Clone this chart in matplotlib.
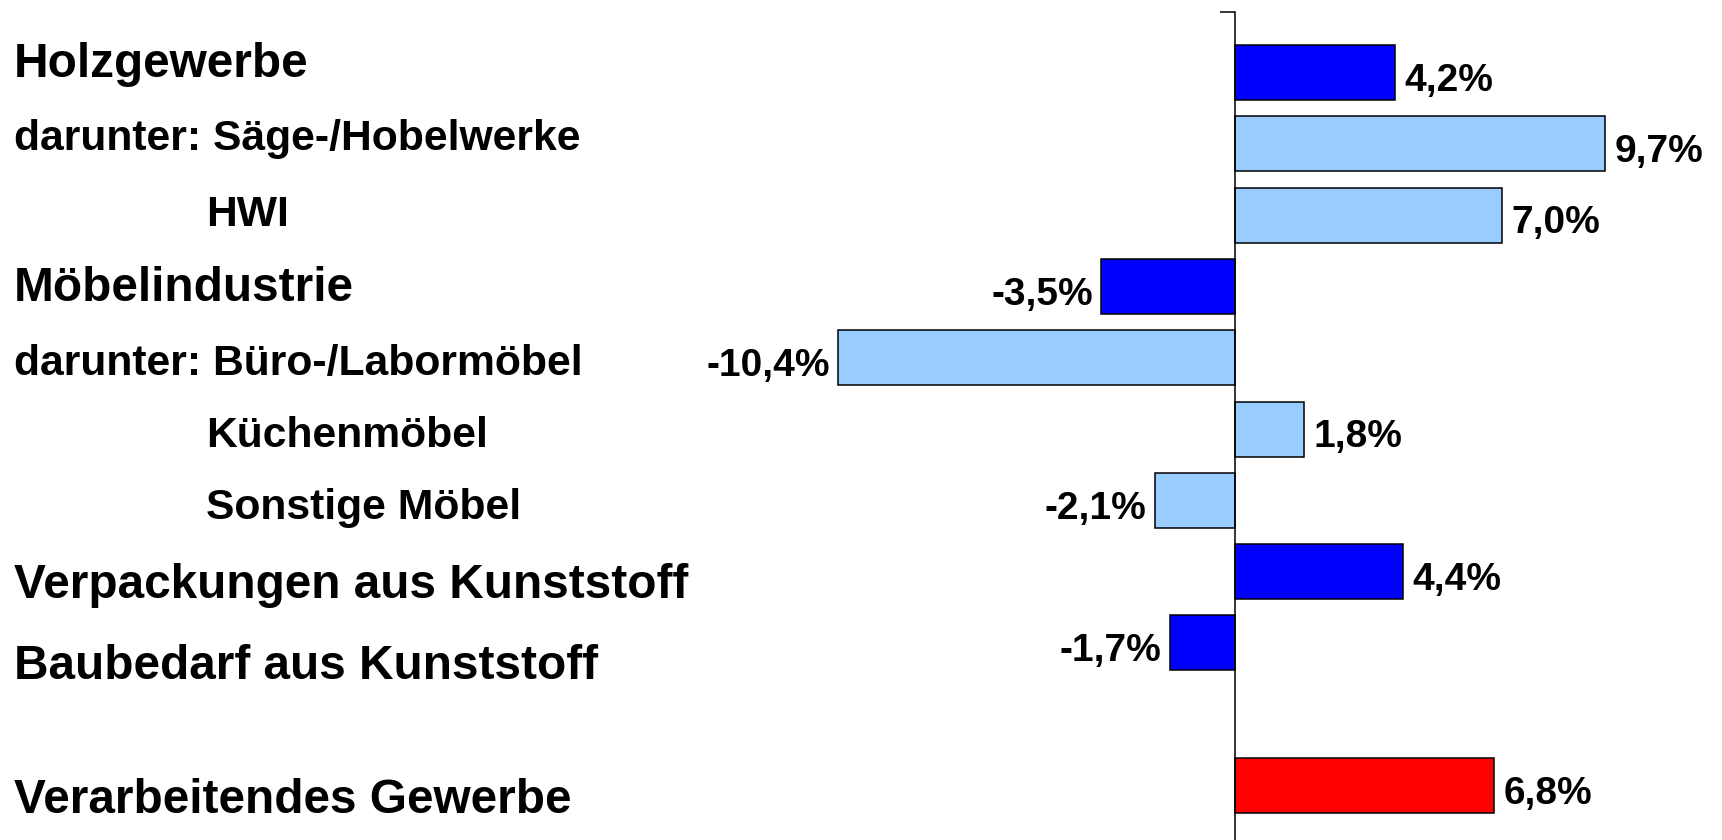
import numpy as np
import matplotlib
matplotlib.use('Agg')
import matplotlib.pyplot as plt

# chart data (one empty slot before the total)
categories = ['Holzgewerbe', 'darunter: Säge-/Hobelwerke', 'HWI', 'Möbelindustrie',
              'darunter: Büro-/Labormöbel', 'Küchenmöbel', 'Sonstige Möbel',
              'Verpackungen aus Kunststoff', 'Baubedarf aus Kunststoff', '',
              'Verarbeitendes Gewerbe']
values = [4.2, 9.7, 7.0, -3.5, -10.4, 1.8, -2.1, 4.4, -1.7, np.nan, 6.8]
groups = ['main', 'sub', 'sub', 'main', 'sub', 'sub', 'sub', 'main', 'main', 'none', 'total']

colors = {'main': '#0000FF', 'sub': '#99CCFF', 'total': '#FF0000', 'none': 'white'}
# label layout: big/small font, indent, baseline (pixels from top)
label_big = [True, False, False, True, False, False, False, True, True, False, True]
label_indent = [False, False, True, False, False, True, True, False, False, False, False]
label_base = [77, 150, 226, 301, 375, 447, 519, 598, 679, 0, 813]

W, H = 1722, 840
fig = plt.figure(figsize=(W / 100, H / 100), dpi=100)
ax = fig.add_axes([0, 0, 1, 1 - 11.7 / H])

ypos = np.arange(len(categories))
bar_cols = [colors[g] for g in groups]
ax.barh(ypos, values, height=0.771, color=bar_cols, edgecolor='black', linewidth=1.1, zorder=2)

ax.set_xlim(-32.37, 12.77)
ax.set_ylim(10.764, -0.853)

for s in ['top', 'right', 'bottom']:
    ax.spines[s].set_visible(False)
ax.spines['left'].set_position(('data', 0))
ax.spines['left'].set_linewidth(1.1)
ax.spines['left'].set_zorder(3)
ax.set_xticks([])
ax.set_yticks([-0.853])
ax.set_yticklabels([''])
ax.tick_params(axis='y', direction='out', length=10.8, width=1.1)

# value labels
for y, v in zip(ypos, values):
    if np.isnan(v):
        continue
    txt = f'{v:.1f}%'.replace('.', ',')
    off = 7 if v > 0 else -6
    ax.annotate(txt, (v, y), xytext=(off, -13.2), textcoords='offset points',
                ha='left' if v > 0 else 'right', va='baseline',
                fontsize=28, fontweight='bold', family='Liberation Sans')

# category labels on the left
for i, name in enumerate(categories):
    if not name:
        continue
    x_px = 206 if label_indent[i] else 14
    fig.text(x_px / W, 1 - label_base[i] / H, name, ha='left', va='baseline',
             fontsize=34.4 if label_big[i] else 30.7, fontweight='bold',
             family='Liberation Sans')

fig.savefig('out.png', dpi=100, facecolor='white')
